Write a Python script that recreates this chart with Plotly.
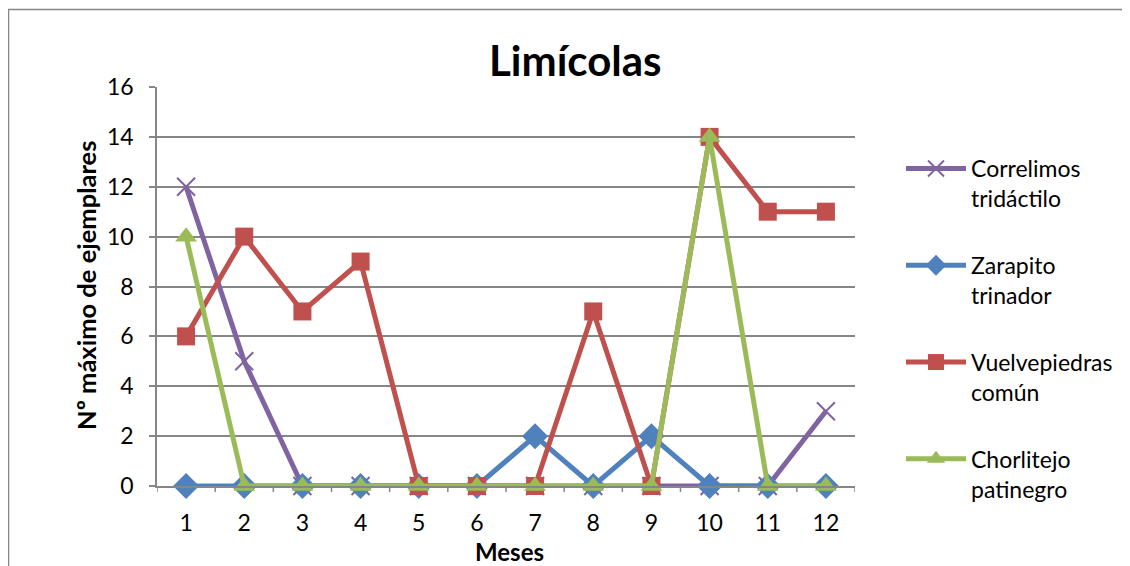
import plotly.graph_objects as go

meses = [1, 2, 3, 4, 5, 6, 7, 8, 9, 10, 11, 12]
mes_labels = ["1", "2", "3", "4", "5", "6", "7", "8", "9", "10", "11", "12"]
correlimos = [12, 5, 0, 0, 0, 0, 0, 0, 0, 0, 0, 3]
zarapito = [0, 0, 0, 0, 0, 0, 2, 0, 2, 0, 0, 0]
vuelvepiedras = [6, 10, 7, 9, 0, 0, 0, 7, 0, 14, 11, 11]
chorlitejo = [10, 0, 0, 0, 0, 0, 0, 0, 0, 14, 0, 0]
y_ticks = [0, 2, 4, 6, 8, 10, 12, 14, 16]

FONT = "Lato, 'Open Sans', sans-serif"
OFF = 8  # default page body margin
W, H = 1130 - OFF, 566 - OFF
L, T = 157 - OFF, 87 - OFF
R = W - (855 - OFF)
B = H - (486 - OFF)
pw = W - L - R
ph = H - T - B


def px(xpage):
    return (xpage - OFF - L) / pw


def py(ypage):
    return 1 - (ypage - OFF - T) / ph


series = [
    ("Correlimos<br>tridáctilo", correlimos, "#8064A2", "x-thin-open", 18),
    ("Zarapito<br>trinador", zarapito, "#4F81BD", "diamond", 20),
    ("Vuelvepiedras<br>común", vuelvepiedras, "#C0504D", "square", 18),
    ("Chorlitejo<br>patinegro", chorlitejo, "#9BBB59", "triangle-up", 19),
]

fig = go.Figure()
for i, (name, vals, col, sym, sz) in enumerate(series):
    fig.add_trace(go.Scatter(
        x=meses, y=vals, name=name, mode="lines+markers",
        line=dict(color=col, width=5),
        marker=dict(symbol=sym, size=sz, color=col,
                    line=dict(color=col, width=2 if sym == "x-thin-open" else 0)),
        legendgroup=str(i),
        cliponaxis=False,
    ))

fig.update_layout(
    width=W, height=H,
    margin=dict(l=L, r=R, t=T, b=B, autoexpand=False),
    paper_bgcolor="white", plot_bgcolor="white",
    font=dict(family=FONT, size=23, color="black"),
    showlegend=True,
    legend=dict(x=px(901), y=py(147), xanchor="left", yanchor="top",
                font=dict(size=23, family=FONT), tracegroupgap=34, valign="top",
                traceorder="grouped", itemwidth=60, bgcolor="rgba(0,0,0,0)"),
    xaxis=dict(range=[0.5, 12.5], tickmode="array", tickvals=meses, ticktext=mes_labels,
               showgrid=False, showline=True, linecolor="#868686", linewidth=1.5,
               ticks="", zeroline=False, ticklabelstandoff=16,
               tickfont=dict(size=23)),
    yaxis=dict(range=[0, 16], tickmode="array", tickvals=y_ticks,
               showgrid=True, gridcolor="#868686", gridwidth=1.5,
               showline=True, linecolor="#868686", linewidth=1.5,
               ticks="outside", ticklen=6, tickcolor="#868686", tickwidth=1.5,
               zeroline=False, ticklabelstandoff=11,
               tickfont=dict(size=23)),
    annotations=[
        dict(text="<b>Limícolas</b>", xref="paper", yref="paper", x=px(575), y=py(60),
             xanchor="center", yanchor="middle", showarrow=False,
             font=dict(size=42, family=FONT, color="black")),
        dict(text="<b>Nº máximo de ejemplares</b>", xref="paper", yref="paper",
             x=px(86), y=py(286), xanchor="center", yanchor="middle", textangle=-90,
             showarrow=False, font=dict(size=25.5, family=FONT, color="black")),
        dict(text="<b>Meses</b>", xref="paper", yref="paper", x=px(509), y=py(551),
             xanchor="center", yanchor="middle", showarrow=False,
             font=dict(size=24, family=FONT, color="black")),
    ],
)

shapes = []
for k in range(13):
    shapes.append(dict(type="line", xref="x", yref="paper",
                       x0=0.5 + k, x1=0.5 + k, y0=0, y1=-6 / ph,
                       line=dict(color="#868686", width=1.5)))
# outer chart border (left and top edges visible)
shapes.append(dict(type="line", xref="paper", yref="paper",
                   x0=px(8.5), x1=px(8.5), y0=py(9), y1=py(580),
                   line=dict(color="#868686", width=1.5)))
shapes.append(dict(type="line", xref="paper", yref="paper",
                   x0=px(8), x1=px(1140), y0=py(9.5), y1=py(9.5),
                   line=dict(color="#868686", width=1.5)))
fig.update_layout(shapes=shapes)

fig.write_html("out.html")
